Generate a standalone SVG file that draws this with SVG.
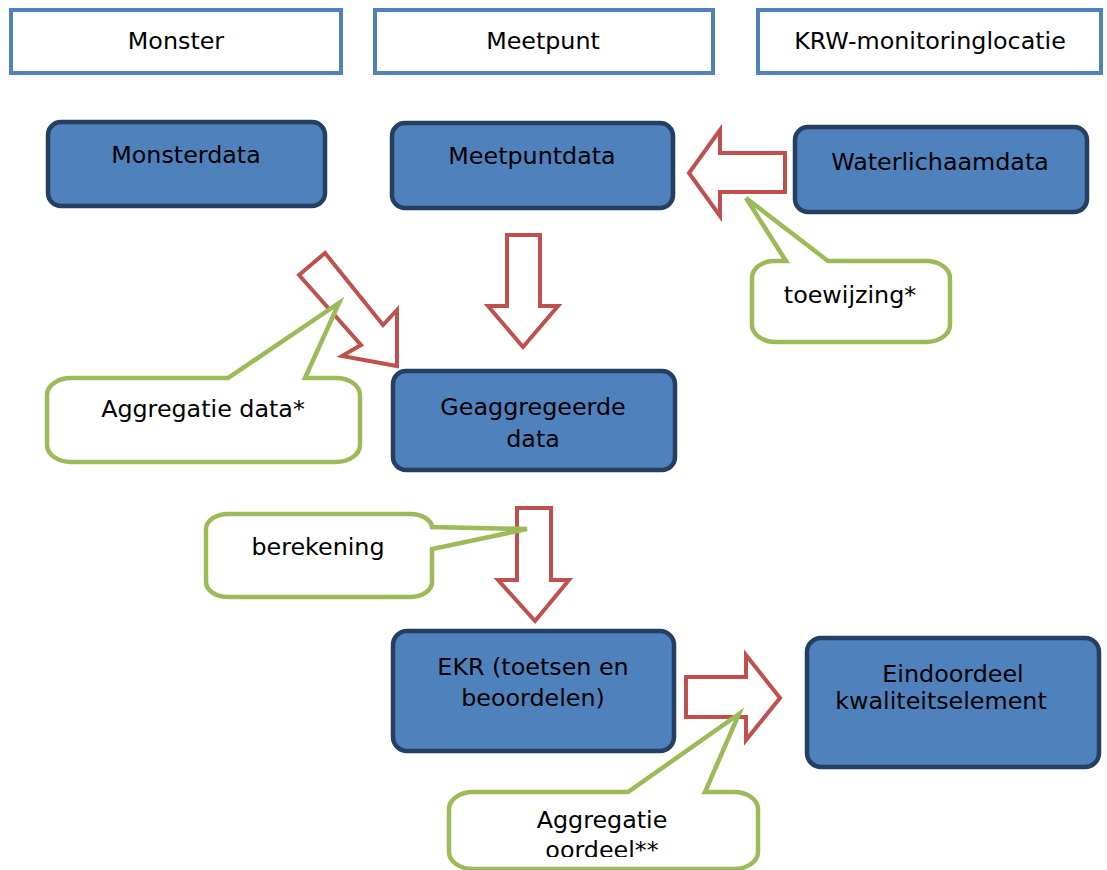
<svg xmlns="http://www.w3.org/2000/svg" width="1107" height="870" viewBox="0 0 1107 870">
<defs>
<style>
.hdr{fill:#fff;stroke:#4F81BD;stroke-width:4}
.box{fill:#4F81BD;stroke:#243F60;stroke-width:4.5}
.arr{fill:#fff;stroke:#C0504D;stroke-width:4;stroke-linejoin:miter}
.cal{fill:#fff;stroke:#9BBB59;stroke-width:4.5;stroke-linejoin:miter}
text{font-family:"DejaVu Sans","Verdana",sans-serif;font-size:23.8px;fill:#000;text-anchor:middle}
</style>
<clipPath id="clipText"><rect x="440" y="780" width="330" height="77"/></clipPath>
</defs>
<rect width="1107" height="870" fill="#fff"/>
<g id="hdr-monster"><rect class="hdr" x="11" y="10" width="330" height="63"/><text x="176" y="49">Monster</text></g>
<g id="hdr-meetpunt"><rect class="hdr" x="375" y="10" width="338" height="63"/><text x="543" y="49">Meetpunt</text></g>
<g id="hdr-krw"><rect class="hdr" x="758" y="10" width="343" height="63"/><text x="930" y="49">KRW-monitoringlocatie</text></g>

<g id="connectors">
<polygon class="arr" points="785,153 720,153 720,130 689,173 720,216 720,192 785,192"/>
<polygon class="arr" points="507,235 540,235 540,306 558,306 523,347 488,306 507,306"/>
<polygon class="arr" points="299,275 325,253 383,325 397,310 397,366 342,356 361,345"/>
<polygon class="arr" points="517,508 551,508 551,580 569,580 535,621 498,580 517,580"/>
<polygon class="arr" points="686,677 746,677 746,655 780,698 746,740 746,717 686,717"/>
</g>

<g id="monsterdata"><rect class="box" x="48" y="122" width="277" height="84" rx="13"/><text x="186" y="163">Monsterdata</text></g>
<g id="meetpuntdata"><rect class="box" x="392" y="123" width="281" height="85" rx="13"/><text x="532" y="164">Meetpuntdata</text></g>
<g id="waterlichaamdata"><rect class="box" x="795" y="127" width="292" height="85" rx="13"/><text x="940" y="170">Waterlichaamdata</text></g>
<g id="geaggregeerde"><rect class="box" x="393" y="371" width="282" height="99" rx="13"/><text x="533" y="415">Geaggregeerde</text><text x="533" y="447">data</text></g>
<g id="ekr"><rect class="box" x="393" y="631" width="281" height="120" rx="14"/><text x="533" y="675">EKR (toetsen en</text><text x="533" y="706">beoordelen)</text></g>
<g id="eindoordeel"><rect class="box" x="807" y="638" width="292" height="129" rx="14"/><text x="953" y="682">Eindoordeel</text><text x="941" y="709">kwaliteitselement</text></g>

<g id="callout-aggregatie-data"><path class="cal" d="M71,378 L228,378 L339,303 L305,378 L336,378 A24 17 0 0 1 360 395 L360 445 A24 17 0 0 1 336 462 L71 462 A24 17 0 0 1 47 445 L47 395 A24 17 0 0 1 71 378 Z"/><text x="203" y="417">Aggregatie data*</text></g>
<g id="callout-toewijzing"><path class="cal" d="M774,261 L786,261 L746,198 L828,261 L926,261 A24 17 0 0 1 950 278 L950 325 A24 17 0 0 1 926 342 L774 342 A24 17 0 0 1 752 325 L752 278 A22 17 0 0 1 774 261 Z"/><text x="850" y="303">toewijzing*</text></g>
<g id="callout-berekening"><path class="cal" d="M228,514 L410,514 A22 14 0 0 1 432 527 L527 529 L432 549 L432 582 A22 15 0 0 1 410 597 L228 597 A22 15 0 0 1 206 582 L206 529 A22 15 0 0 1 228 514 Z"/><text x="318" y="555">berekening</text></g>
<g id="callout-aggregatie-oordeel"><path class="cal" d="M473,792 L628,792 L739,714 L705,792 L734,792 A24 17 0 0 1 758 809 L758 852 A24 17 0 0 1 734 869 L473 869 A24 17 0 0 1 449 852 L449 809 A24 17 0 0 1 473 792 Z"/><g clip-path="url(#clipText)"><text x="602" y="828">Aggregatie</text><text x="602" y="858">oordeel**</text></g></g>
</svg>
